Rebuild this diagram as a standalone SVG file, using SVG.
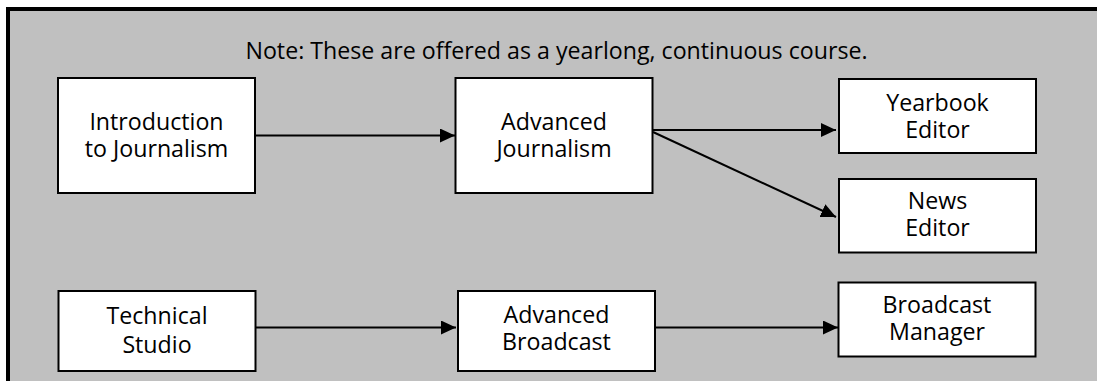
<svg xmlns="http://www.w3.org/2000/svg" width="1097" height="381" viewBox="0 0 1097 381">
  <style>
    .box { fill: #ffffff; stroke: #000000; stroke-width: 2; }
    .lbl { font-family: "Open Sans", Lato, "Liberation Sans", sans-serif; font-size: 23.2px; fill: #000000; text-anchor: middle; }
    .conn { stroke: #000000; stroke-width: 2; fill: none; marker-end: url(#arrow); }
  </style>
  <defs>
    <marker id="arrow" viewBox="0 0 15 14" refX="15" refY="7" markerWidth="15" markerHeight="14" markerUnits="userSpaceOnUse" orient="auto">
      <path d="M0,0 L15,7 L0,14 Z" fill="#000000"/>
    </marker>
  </defs>
  <rect x="0" y="0" width="1097" height="381" fill="#ffffff"/>
  <rect x="8" y="9" width="1089" height="372" fill="#c0c0c0"/>
  <path d="M8,381 L8,9 L1097,9" fill="none" stroke="#000000" stroke-width="4"/>
  <text class="lbl" x="556.5" y="59">Note: These are offered as a yearlong, continuous course.</text>

  <g id="connectors">
    <line class="conn" x1="256" y1="135.5" x2="455" y2="135.5"/>
    <line class="conn" x1="653" y1="130" x2="836" y2="130"/>
    <line class="conn" x1="653" y1="132" x2="836" y2="217"/>
    <line class="conn" x1="256" y1="327.5" x2="456" y2="327.5"/>
    <line class="conn" x1="655" y1="327.5" x2="838" y2="327.5"/>
  </g>

  <g id="intro">
    <rect class="box" x="58" y="78" width="197" height="115"/>
    <text class="lbl" x="156.5" y="130">Introduction</text>
    <text class="lbl" x="156.5" y="156.5">to Journalism</text>
  </g>
  <g id="advjournalism">
    <rect class="box" x="455.5" y="78" width="197" height="115"/>
    <text class="lbl" x="554" y="130">Advanced</text>
    <text class="lbl" x="554" y="156.5">Journalism</text>
  </g>
  <g id="yearbook">
    <rect class="box" x="839" y="79" width="197" height="74"/>
    <text class="lbl" x="937.5" y="110.5">Yearbook</text>
    <text class="lbl" x="937.5" y="137.5">Editor</text>
  </g>
  <g id="news">
    <rect class="box" x="839" y="179" width="197" height="73.5"/>
    <text class="lbl" x="937.5" y="209">News</text>
    <text class="lbl" x="937.5" y="236">Editor</text>
  </g>
  <g id="technical">
    <rect class="box" x="58.5" y="291" width="197" height="80"/>
    <text class="lbl" x="157" y="324">Technical</text>
    <text class="lbl" x="157" y="353">Studio</text>
  </g>
  <g id="advbroadcast">
    <rect class="box" x="458" y="291" width="197" height="80"/>
    <text class="lbl" x="556.5" y="322.5">Advanced</text>
    <text class="lbl" x="556.5" y="350">Broadcast</text>
  </g>
  <g id="broadcastmgr">
    <rect class="box" x="838.5" y="282.5" width="197" height="74"/>
    <text class="lbl" x="937" y="313">Broadcast</text>
    <text class="lbl" x="937" y="340">Manager</text>
  </g>
</svg>
